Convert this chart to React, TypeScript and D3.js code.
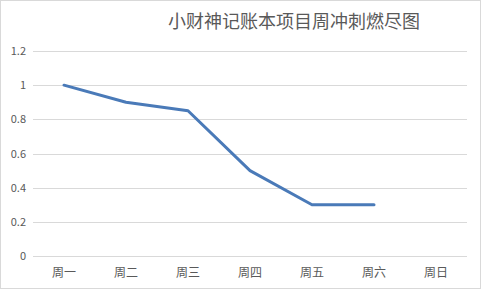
import React from "react";
import * as d3 from "d3";

const categories = ["周一", "周二", "周三", "周四", "周五", "周六", "周日"];
const remaining: (number | null)[] = [1, 0.9, 0.85, 0.5, 0.3, 0.3, null];
const yTicks = [0, 0.2, 0.4, 0.6, 0.8, 1, 1.2];
const title = "小财神记账本项目周冲刺燃尽图";

const W = 481;
const H = 289;
const plot = { left: 33, right: 467, top: 51, bottom: 256 };
const font = "'Microsoft YaHei', 'Noto Sans CJK SC', sans-serif";

export default function App() {
  const x = d3
    .scaleBand<string>()
    .domain(categories)
    .range([plot.left, plot.right]);
  const y = d3.scaleLinear().domain([0, 1.2]).range([plot.bottom, plot.top]);

  const points = categories
    .map((c, i) => ({ c, v: remaining[i] }))
    .filter((d) => d.v !== null) as { c: string; v: number }[];

  const line = d3
    .line<{ c: string; v: number }>()
    .x((d) => (x(d.c) as number) + x.bandwidth() / 2)
    .y((d) => y(d.v));

  return (
    <svg
      width={W}
      height={H}
      style={{ position: "absolute", left: 0, top: 0, display: "block" }}
    >
      <rect x={0.5} y={0.5} width={W - 1} height={H - 1} fill="#fff" stroke="#d9d9d9" />
      <text
        x={294}
        y={28}
        textAnchor="middle"
        fontFamily={font}
        fontSize={18}
        fill="#595959"
      >
        {title}
      </text>
      {yTicks.map((t) => (
        <g key={t}>
          <line
            x1={plot.left}
            x2={plot.right}
            y1={Math.round(y(t)) + 0.5}
            y2={Math.round(y(t)) + 0.5}
            stroke="#d9d9d9"
            strokeWidth={1}
          />
          <text
            x={26}
            y={y(t) + 4}
            textAnchor="end"
            fontFamily={font}
            fontSize={11}
            fill="#595959"
          >
            {t}
          </text>
        </g>
      ))}
      {categories.map((c) => (
        <text
          key={c}
          x={(x(c) as number) + x.bandwidth() / 2}
          y={277}
          textAnchor="middle"
          fontFamily={font}
          fontSize={12}
          fill="#595959"
        >
          {c}
        </text>
      ))}
      <path
        d={line(points) || ""}
        fill="none"
        stroke="#4a7ab8"
        strokeWidth={3}
        strokeLinejoin="round"
        strokeLinecap="round"
      />
    </svg>
  );
}
